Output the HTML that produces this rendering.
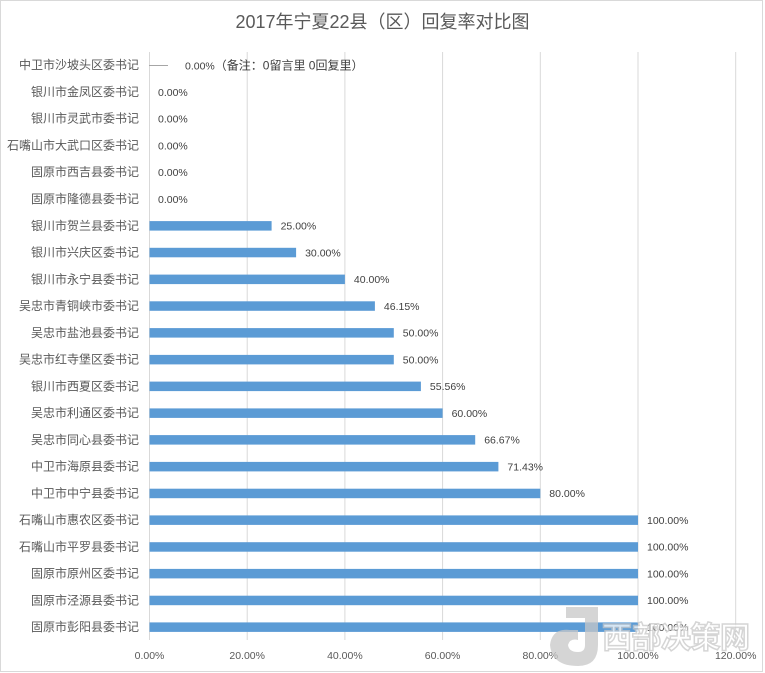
<!DOCTYPE html>
<html><head><meta charset="utf-8"><style>
html,body{margin:0;padding:0;background:#fff;}
svg{display:block;}
text{font-family:"Liberation Sans","Noto Sans CJK SC",sans-serif;}
</style></head><body>
<svg width="765" height="673" viewBox="0 0 765 673" xmlns="http://www.w3.org/2000/svg">
<rect x="0.5" y="0.5" width="762" height="671" fill="#fff" stroke="#d9d9d9" stroke-width="1"/>
<text x="382.5" y="28" text-anchor="middle" font-size="18" fill="#595959">2017年宁夏22县（区）回复率对比图</text>
<g stroke="#d9d9d9" stroke-width="1">
<line x1="149.5" y1="52" x2="149.5" y2="640"/>
<line x1="247.2" y1="52" x2="247.2" y2="640"/>
<line x1="344.9" y1="52" x2="344.9" y2="640"/>
<line x1="442.6" y1="52" x2="442.6" y2="640"/>
<line x1="540.3" y1="52" x2="540.3" y2="640"/>
<line x1="638" y1="52" x2="638" y2="640"/>
<line x1="735.7" y1="52" x2="735.7" y2="640"/>
</g>
<g font-size="10.5" fill="#595959" text-anchor="middle">
<text x="149.5" y="659">0.00%</text>
<text x="247.2" y="659">20.00%</text>
<text x="344.9" y="659">40.00%</text>
<text x="442.6" y="659">60.00%</text>
<text x="540.3" y="659">80.00%</text>
<text x="638" y="659">100.00%</text>
<text x="735.7" y="659">120.00%</text>
</g>
<g font-size="12" fill="#595959" text-anchor="end">
<text x="139" y="69.2">中卫市沙坡头区委书记</text>
<text x="139" y="96">银川市金凤区委书记</text>
<text x="139" y="122.7">银川市灵武市委书记</text>
<text x="139" y="149.5">石嘴山市大武口区委书记</text>
<text x="139" y="176.2">固原市西吉县委书记</text>
<text x="139" y="203">固原市隆德县委书记</text>
<text x="139" y="229.8">银川市贺兰县委书记</text>
<text x="139" y="256.5">银川市兴庆区委书记</text>
<text x="139" y="283.3">银川市永宁县委书记</text>
<text x="139" y="310">吴忠市青铜峡市委书记</text>
<text x="139" y="336.8">吴忠市盐池县委书记</text>
<text x="139" y="363.6">吴忠市红寺堡区委书记</text>
<text x="139" y="390.3">银川市西夏区委书记</text>
<text x="139" y="417.1">吴忠市利通区委书记</text>
<text x="139" y="443.8">吴忠市同心县委书记</text>
<text x="139" y="470.6">中卫市海原县委书记</text>
<text x="139" y="497.4">中卫市中宁县委书记</text>
<text x="139" y="524.1">石嘴山市惠农区委书记</text>
<text x="139" y="550.9">石嘴山市平罗县委书记</text>
<text x="139" y="577.6">固原市原州区委书记</text>
<text x="139" y="604.4">固原市泾源县委书记</text>
<text x="139" y="631.2">固原市彭阳县委书记</text>
</g>
<line x1="149" y1="65.5" x2="168" y2="65.5" stroke="#a6a6a6" stroke-width="1"/>
<g fill="#5b9bd5">
<rect x="149.5" y="221.1" width="122.1" height="9.5"/>
<rect x="149.5" y="247.8" width="146.6" height="9.5"/>
<rect x="149.5" y="274.6" width="195.4" height="9.5"/>
<rect x="149.5" y="301.3" width="225.4" height="9.5"/>
<rect x="149.5" y="328.1" width="244.3" height="9.5"/>
<rect x="149.5" y="354.9" width="244.3" height="9.5"/>
<rect x="149.5" y="381.6" width="271.4" height="9.5"/>
<rect x="149.5" y="408.4" width="293.1" height="9.5"/>
<rect x="149.5" y="435.1" width="325.7" height="9.5"/>
<rect x="149.5" y="461.9" width="348.9" height="9.5"/>
<rect x="149.5" y="488.7" width="390.8" height="9.5"/>
<rect x="149.5" y="515.4" width="488.5" height="9.5"/>
<rect x="149.5" y="542.2" width="488.5" height="9.5"/>
<rect x="149.5" y="568.9" width="488.5" height="9.5"/>
<rect x="149.5" y="595.7" width="488.5" height="9.5"/>
<rect x="149.5" y="622.4" width="488.5" height="9.5"/>
</g>
<g font-size="10.5" fill="#404040">
<text x="185" y="69.5">0.00%<tspan font-size="12">（备注：0留言里 0回复里）</tspan></text>
<text x="158" y="95.8">0.00%</text>
<text x="158" y="122.5">0.00%</text>
<text x="158" y="149.3">0.00%</text>
<text x="158" y="176">0.00%</text>
<text x="158" y="202.8">0.00%</text>
<text x="280.6" y="229.6">25.00%</text>
<text x="305.1" y="256.3">30.00%</text>
<text x="353.9" y="283.1">40.00%</text>
<text x="383.9" y="309.8">46.15%</text>
<text x="402.8" y="336.6">50.00%</text>
<text x="402.8" y="363.4">50.00%</text>
<text x="429.9" y="390.1">55.56%</text>
<text x="451.6" y="416.9">60.00%</text>
<text x="484.2" y="443.6">66.67%</text>
<text x="507.4" y="470.4">71.43%</text>
<text x="549.3" y="497.2">80.00%</text>
<text x="647" y="523.9">100.00%</text>
<text x="647" y="550.7">100.00%</text>
<text x="647" y="577.4">100.00%</text>
<text x="647" y="604.2">100.00%</text>
<text x="647" y="631">100.00%</text>
</g>
<!-- watermark -->
<g opacity="0.75">
<path d="M566 607 L598 607 L598 645 Q598 666 578 666 Q552 666 550 645 Q552 628 570 630 L578 630 L578 640 Q570 638 568 645 Q569 652 578 652 Q585 652 585 645 L585 618 L566 618 Z" fill="#c8c8c8"/>
<text x="602" y="648" font-size="30" font-weight="bold" fill="#ffffff" stroke="#c8c8c8" stroke-width="1.5" style="font-family:'Noto Sans CJK SC',sans-serif" textLength="148">西部决策网</text>
</g>
</svg>
</body></html>
